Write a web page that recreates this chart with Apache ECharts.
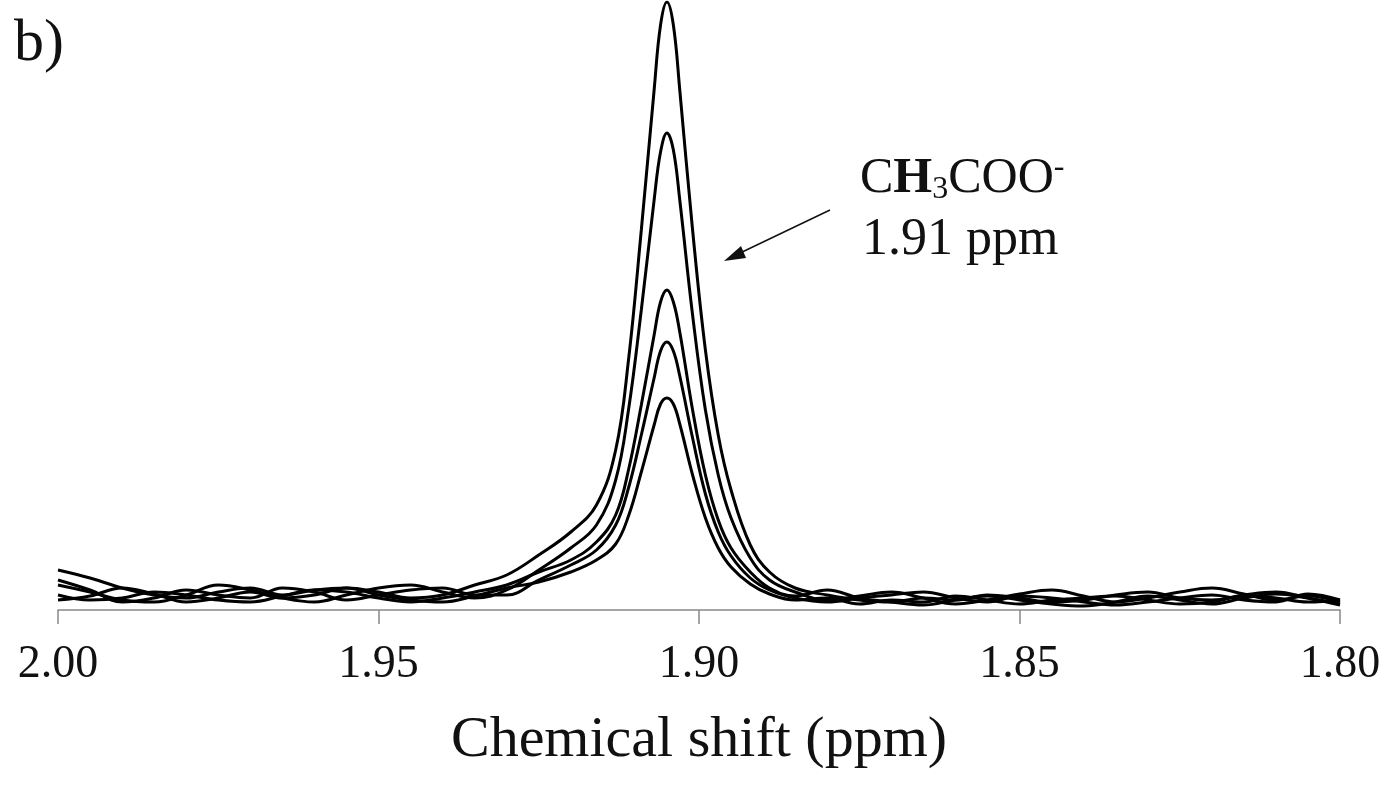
<!DOCTYPE html>
<html><head><meta charset="utf-8">
<script src="https://cdn.jsdelivr.net/npm/echarts@6/dist/echarts.min.js"></script>
<style>html,body{margin:0;padding:0;background:#fff}#c{width:1388px;height:787px}</style>
</head><body><div id="c"></div>
<script>
const shifts = [2.000,1.995,1.990,1.985,1.980,1.975,1.970,1.965,1.960,1.955,1.950,1.945,1.940,1.935,1.930,1.925,
 1.920,1.916,1.913,1.911,1.909,1.907,1.906,1.905,1.904,1.903,1.901,1.899,1.897,1.895,1.892,1.889,1.885,
 1.880,1.875,1.870,1.865,1.860,1.855,1.850,1.845,1.840,1.835,1.830,1.825,1.820,1.815,1.810,1.805,1.800];
const specA = [40,32,22,15,12,18,22,15,20,22,18,12,15,25,35,55,
 78,105,160,250,380,520,585,608,585,520,380,260,175,120,65,38,22,
 15,10,8,12,10,15,12,8,10,15,18,12,10,15,18,12,5];
const specB = [25,18,10,8,15,25,20,12,8,15,22,25,18,12,20,40,
 62,85,130,200,300,410,458,477,460,410,295,200,135,92,52,30,18,
 10,14,18,12,6,10,16,20,14,8,12,18,22,16,10,14,8];
const specC = [15,10,12,18,15,10,8,14,20,18,12,8,12,18,25,38,
 50,68,95,140,205,275,308,320,308,278,200,135,90,62,38,22,14,
 20,12,8,5,10,14,10,6,4,8,14,10,6,12,16,12,6];
const specD = [30,20,8,12,20,15,12,22,18,10,15,20,22,15,15,30,
 45,60,85,122,175,232,259,268,259,234,172,116,78,54,32,20,12,
 8,12,15,18,12,8,14,12,8,5,8,12,15,10,8,16,10];
const specE = [10,14,22,16,8,12,18,12,15,22,15,10,8,14,22,28,
 38,50,66,94,138,185,206,212,206,186,135,92,62,43,26,16,10,
 12,6,10,8,14,10,6,10,12,14,10,6,8,14,12,8,10];
const spectra = [specA, specB, specC, specD, specE];

const chart = echarts.init(document.getElementById('c'));
const font = 'Liberation Serif, Times New Roman, serif';
chart.setOption({
  animation:false,
  grid:{left:58,right:48,top:2,bottom:177,containLabel:false,outerBoundsMode:'none'},
  xAxis:{type:'value',min:1.80,max:2.00,interval:0.05,inverse:true,
    axisLine:{lineStyle:{color:'#888',width:1.5}},
    axisTick:{inside:false,length:14,lineStyle:{color:'#888',width:1.5}},
    splitLine:{show:false},
    axisLabel:{color:'#111',fontFamily:font,fontSize:46,margin:32,
      formatter:v=>Number(v).toFixed(2)},
    name:'Chemical shift (ppm)',nameLocation:'middle',nameGap:102,
    nameTextStyle:{color:'#111',fontFamily:font,fontSize:58}},
  yAxis:{type:'value',min:0,max:608,show:false},
  series:spectra.map(s=>({type:'line',smooth:0.4,symbol:'none',
    data:shifts.map((x,i)=>[x,s[i]]),
    lineStyle:{color:'#000',width:3}})),
  graphic:[
    {type:'text',left:14,top:14,style:{text:'b)',font:'60px '+font,fill:'#111'}},
    {type:'text',left:860,top:152,style:{
      text:'{n|C}{b|H}{s|3}{n|COO}{p|-}',
      rich:{n:{font:'50px '+font,fill:'#111'},b:{font:'bold 50px '+font,fill:'#111'},
        s:{font:'32px '+font,fill:'#111',verticalAlign:'bottom',padding:[18,0,0,0]},
        p:{font:'32px '+font,fill:'#111',verticalAlign:'top',padding:[0,0,22,0]}}}},
    {type:'text',left:862,top:214,style:{text:'1.91 ppm',font:'52px '+font,fill:'#111'}},
    {type:'line',shape:{x1:830,y1:210,x2:738,y2:254},style:{stroke:'#111',lineWidth:1.5}},
    {type:'polygon',shape:{points:[[724,261],[741,246],[746,258]]},style:{fill:'#111'}}
  ]
});
</script></body></html>
